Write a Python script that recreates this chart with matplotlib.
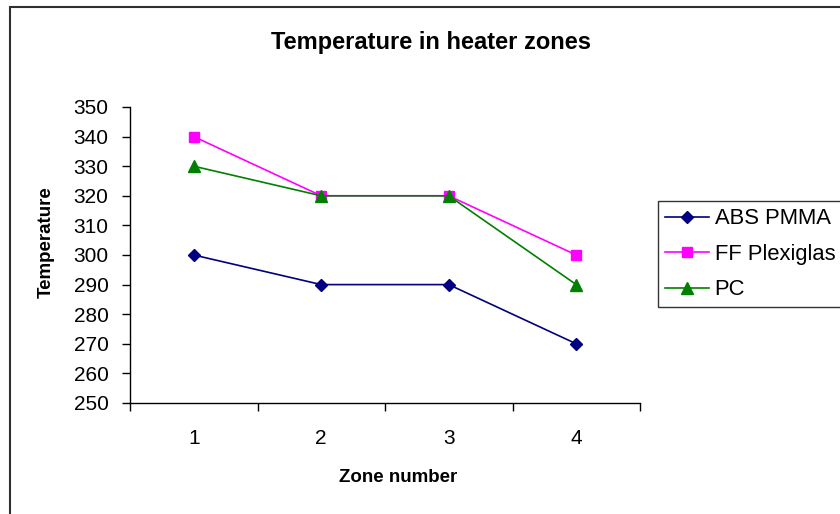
import matplotlib.pyplot as plt
from matplotlib.patches import Rectangle

plt.rcParams['font.family'] = ['Liberation Sans', 'DejaVu Sans']

zones = [1, 2, 3, 4]
abs_pmma = [300, 290, 290, 270]
ff_plexiglas = [340, 320, 320, 300]
pc = [330, 320, 320, 290]

W, H = 840, 514
fig = plt.figure(figsize=(W / 100, H / 100), dpi=100)
ax = fig.add_axes([130 / W, 1 - 403 / H, (640 - 130) / W, (403 - 107) / H])

ax.plot(zones, abs_pmma, color='#000080', marker='D', markersize=6, lw=1.2, label='ABS PMMA')
ax.plot(zones, ff_plexiglas, color='#FF00FF', marker='s', markersize=6.5, lw=1.2, label='FF Plexiglas')
ax.plot(zones, pc, color='#008000', marker='^', markersize=8, lw=1.2, label='PC')

ax.set_xlim(0.5, 4.5)
ax.set_ylim(250, 350)
ax.set_yticks(range(250, 351, 10))
ax.set_xticks(zones)
ax.set_xticks([0.5, 1.5, 2.5, 3.5, 4.5], minor=True)
ax.tick_params(axis='x', which='major', length=0, pad=19, labelsize=15)
ax.tick_params(axis='x', which='minor', length=5.5, width=1, direction='out')
ax.tick_params(axis='y', length=5.5, width=1, direction='out', pad=10, labelsize=15)
for side in ('top', 'right'):
    ax.spines[side].set_visible(False)
for side in ('left', 'bottom'):
    ax.spines[side].set_linewidth(1)

ax.set_xlabel('Zone number', fontsize=13.5, fontweight='bold')
ax.set_ylabel('Temperature', fontsize=13.5, fontweight='bold')
ax.xaxis.set_label_coords((398 - 130) / (640 - 130), -(478 - 403) / (403 - 107), transform=ax.transAxes)
ax.yaxis.set_label_coords(-(130 - 46) / (640 - 130), (403 - 242) / (403 - 107), transform=ax.transAxes)
ax.xaxis.label.set_va('center')
ax.yaxis.label.set_va('center')

fig.text(431 / W, 1 - 42 / H, 'Temperature in heater zones', ha='center', va='center',
         fontsize=17, fontweight='bold')

leg = fig.legend(loc='upper left', bbox_to_anchor=(658 / W, 1 - 201 / H), fontsize=15.8,
                 frameon=True, fancybox=False, edgecolor='black', borderaxespad=0,
                 handlelength=2.0, handletextpad=0.25, labelspacing=0.66, borderpad=0.33)
leg.get_frame().set_linewidth(1)

# outer chart border
fig.patches.append(Rectangle((9.5 / W, -0.1), 1.2, 1 - 7.5 / H + 0.1, transform=fig.transFigure,
                             fill=False, edgecolor='#303030', lw=1.5))

fig.savefig('out.png', dpi=100)
